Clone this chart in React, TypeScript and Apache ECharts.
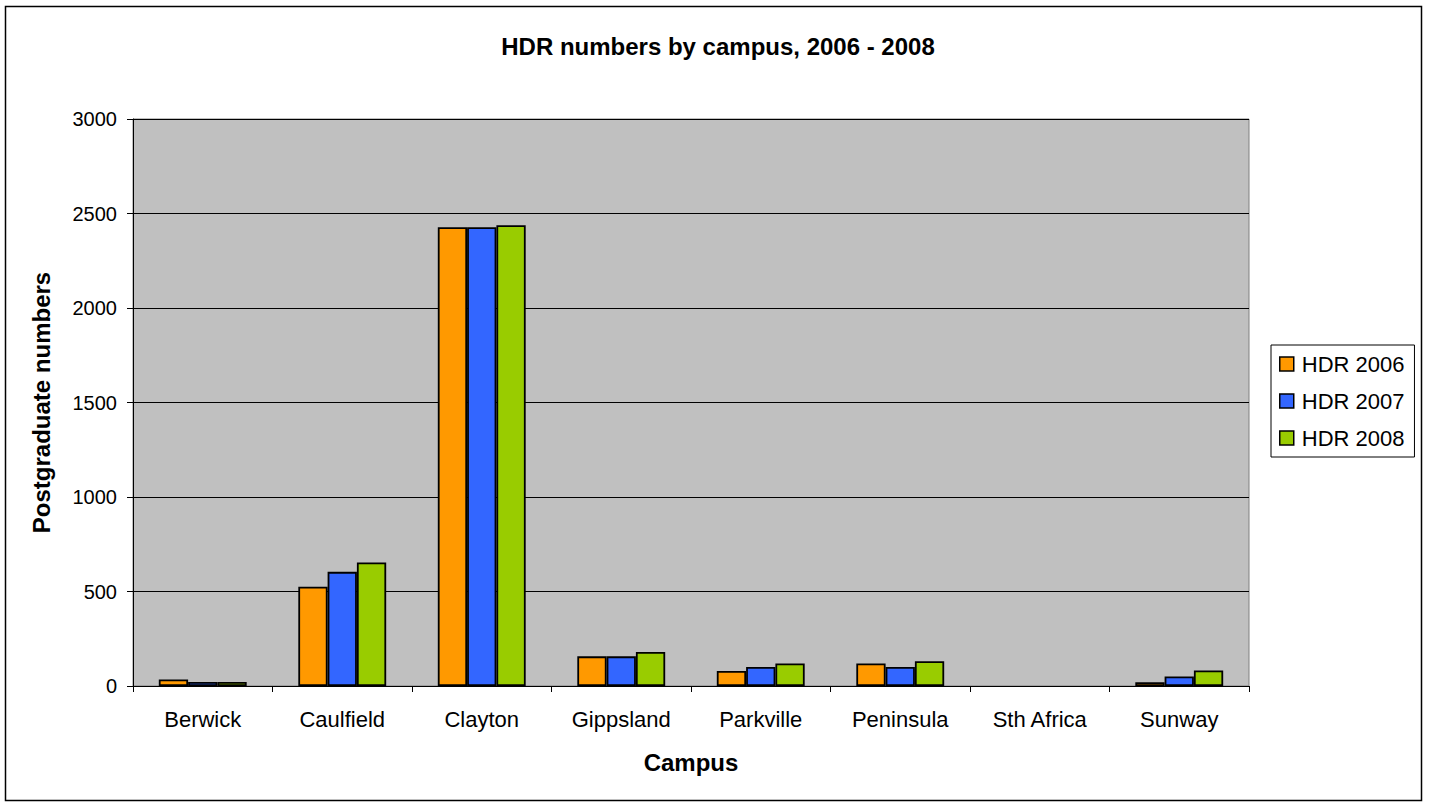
import React, { useEffect, useRef } from "react";
import * as echarts from "echarts";

const categories = ["Berwick", "Caulfield", "Clayton", "Gippsland", "Parkville", "Peninsula", "Sth Africa", "Sunway"];
const hdr2006 = [34, 525, 2427, 157, 80, 119, null, 20];
const hdr2007 = [21, 604, 2427, 157, 101, 101, null, 50];
const hdr2008 = [21, 654, 2438, 180, 119, 131, null, 82];
const seriesNames = ["HDR 2006", "HDR 2007", "HDR 2008"];
const colors = ["#FF9900", "#3366FF", "#99CC00"];

export default function App() {
  const ref = useRef<HTMLDivElement>(null);
  useEffect(() => {
    const chart = echarts.init(ref.current!, null, { renderer: "svg" });
    const data = [hdr2006, hdr2007, hdr2008];
    chart.setOption({
      animation: false,
      backgroundColor: "#ffffff",
      textStyle: { fontFamily: "Liberation Sans, Arial, sans-serif" },
      title: {
        text: "HDR numbers by campus, 2006 - 2008",
        left: 713,
        top: 29,
        textAlign: "center",
        textStyle: { fontSize: 24, fontWeight: "bold", color: "#000" },
      },
      legend: {
        orient: "vertical",
        left: 1271,
        top: 345,
        padding: [8, 10, 8, 8],
        itemGap: 15,
        itemWidth: 14,
        itemHeight: 14,
        icon: "rect",
        borderColor: "#000",
        borderWidth: 1,
        itemStyle: { borderColor: "#000", borderWidth: 1.5 },
        textStyle: { fontSize: 22, color: "#000", padding: [0, 0, 0, 3] },
        data: seriesNames,
      },
      grid: { left: 133, top: 119, width: 1116, height: 567, backgroundColor: "#C0C0C0", show: true, borderColor: "#808080", borderWidth: 1 },
      xAxis: {
        type: "category",
        data: categories,
        name: "Campus",
        nameLocation: "middle",
        nameGap: 64,
        nameTextStyle: { fontSize: 24, fontWeight: "bold", color: "#000" },
        axisLine: { lineStyle: { color: "#000", width: 1 } },
        axisTick: { show: true, length: 6, lineStyle: { color: "#000" } },
        axisLabel: { fontSize: 22, color: "#000", margin: 22 },
      },
      yAxis: {
        type: "value",
        min: 0,
        max: 3000,
        interval: 500,
        name: "Postgraduate numbers",
        nameLocation: "middle",
        nameGap: 80,
        nameTextStyle: { fontSize: 24, fontWeight: "bold", color: "#000" },
        axisLine: { show: true, lineStyle: { color: "#000", width: 1 } },
        axisTick: { show: true, length: 6, lineStyle: { color: "#000" } },
        axisLabel: { fontSize: 20, color: "#000", margin: 16, formatter: (v: number) => String(v) },
        splitLine: { show: true, lineStyle: { color: "#000", width: 1 } },
      },
      graphic: [
        {
          type: "rect",
          shape: { x: 5.5, y: 6.5, width: 1416, height: 794 },
          style: { fill: "none", stroke: "#000", lineWidth: 1.5 },
          z: 100,
        },
      ],
      series: data.map((d, i) => ({
        name: seriesNames[i],
        type: "bar",
        data: d,
        barGap: "0%",
        barCategoryGap: "37%",
        itemStyle: { color: colors[i], borderColor: "#000", borderWidth: 1.8 },
      })),
    });
    return () => chart.dispose();
  }, []);
  return <div ref={ref} style={{ position: "absolute", left: 0, top: 0, width: 1429, height: 803 }} />;
}
